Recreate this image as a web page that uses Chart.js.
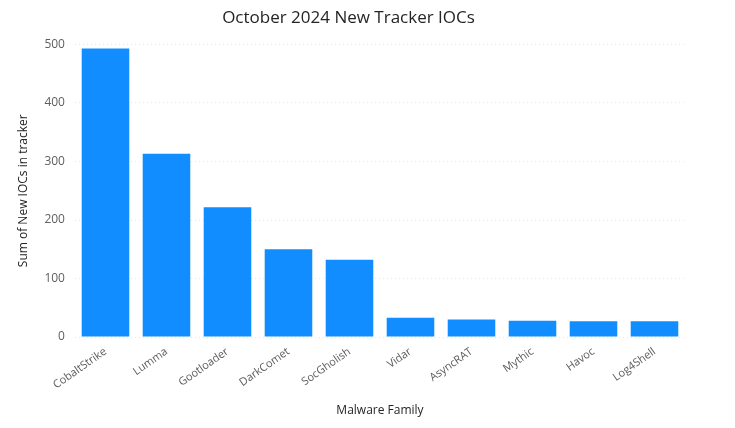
<!DOCTYPE html>
<html>
<head>
<meta charset="utf-8">
<script src="https://cdn.jsdelivr.net/npm/chart.js@4"></script>
<style>
  html, body { margin: 0; padding: 0; background: #fff; }
  #wrap { width: 735px; height: 428px; }
</style>
</head>
<body>
<div id="wrap"><canvas id="chart" width="735" height="428"></canvas></div>
<script>
// data
const families = ['CobaltStrike', 'Lumma', 'Gootloader', 'DarkComet', 'SocGholish', 'Vidar', 'AsyncRAT', 'Mythic', 'Havoc', 'Log4Shell'];
const newIocs = [493, 313, 222, 150, 132, 33, 30, 28, 27, 27];
const yTicks = [0, 100, 200, 300, 400, 500];

new Chart(document.getElementById('chart'), {
    type: 'bar',
    data: {
        labels: families,
        datasets: [{
            label: 'Sum of New IOCs in tracker',
            data: newIocs,
            backgroundColor: '#118DFF',
            categoryPercentage: 1,
            barPercentage: 0.78
        }]
    },
    options: {
        responsive: false,
        animation: false,
        layout: { padding: { left: 12, right: 50, top: 4, bottom: 6 } },
        plugins: {
            legend: { display: false },
            tooltip: { enabled: false },
            title: {
                display: true,
                text: 'October 2024 New Tracker IOCs',
                color: '#252423',
                font: { family: 'Open Sans', size: 17, weight: 'normal' },
                padding: { top: 4, bottom: 16 }
            }
        },
        scales: {
            y: {
                min: 0,
                max: 500,
                afterBuildTicks: axis => { axis.ticks = yTicks.map(v => ({ value: v })); },
                grid: { color: '#e6e6e6', drawTicks: false },
                border: { display: false, dash: [1, 3] },
                ticks: { color: '#605e5c', font: { family: 'Open Sans', size: 12 }, padding: 10 },
                title: {
                    display: true,
                    text: 'Sum of New IOCs in tracker',
                    color: '#252423',
                    font: { family: 'Open Sans', size: 12 }
                }
            },
            x: {
                grid: { display: false },
                border: { display: false },
                ticks: {
                    color: '#605e5c',
                    font: { family: 'Open Sans', size: 11 },
                    maxRotation: 35,
                    minRotation: 35,
                    padding: 0
                },
                title: {
                    display: true,
                    text: 'Malware Family',
                    color: '#252423',
                    font: { family: 'Open Sans', size: 12 },
                    padding: { top: 12 }
                }
            }
        }
    }
});
</script>
</body>
</html>
